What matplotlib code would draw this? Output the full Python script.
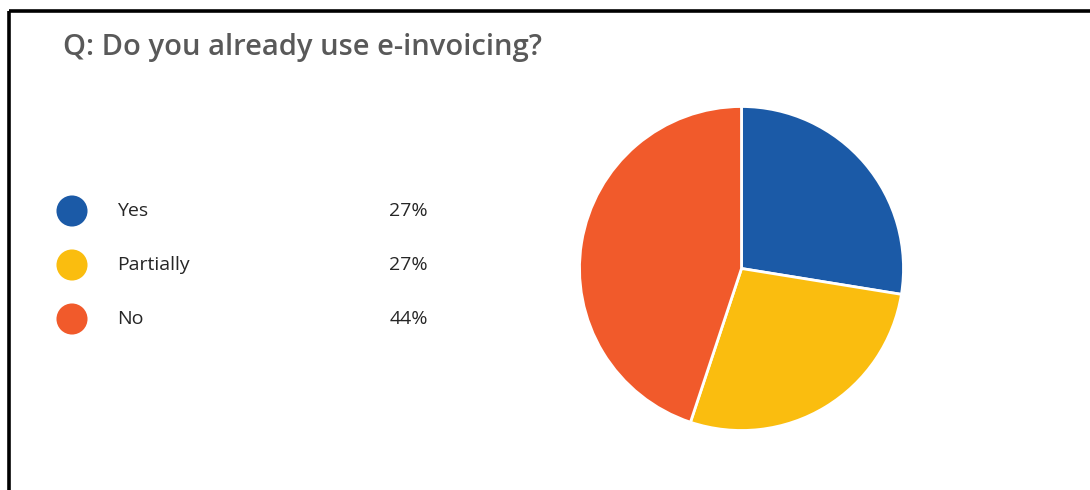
import matplotlib.pyplot as plt

# Datos de la encuesta
titulo = "Q: Do you already use e-invoicing?"
categorias = ["Yes", "Partially", "No"]
porcentajes = [27, 27, 44]
colores = ["#1B5AA7", "#FABD0F", "#F15A2B"]

fig = plt.figure(figsize=(10.9, 4.9), dpi=100)
W, H = 1090, 490

# Capa de fondo en coordenadas de pixel (origen arriba a la izquierda)
fondo = fig.add_axes([0, 0, 1, 1])
fondo.set_xlim(0, W)
fondo.set_ylim(H, 0)
fondo.axis("off")

# Marco negro (solo se ven el borde superior e izquierdo)
fondo.plot([8.5, W + 5], [11.5, 11.5], color="black", lw=2.6, solid_capstyle="butt")
fondo.plot([8.5, 8.5], [11.5, H + 5], color="black", lw=2.6, solid_capstyle="butt")

# Titulo
fondo.text(63, 48, titulo, fontsize=21, color="#595959", fontweight="semibold",
           family="Open Sans", va="center", ha="left")

# Leyenda con circulos, etiquetas y porcentajes
y_filas = [211, 265, 319]
for y, cat, pct, col in zip(y_filas, categorias, porcentajes, colores):
    fondo.scatter([72], [y], s=500, color=col, edgecolors="none")
    fondo.text(117, y, cat, fontsize=14, color="#262626", family="Open Sans",
               va="center", ha="left")
    fondo.text(428, y, f"{pct}%", fontsize=14, color="#262626", family="Open Sans",
               va="center", ha="right")

# Grafico de tarta
cx, cy, r = 741.5, 268.5, 162
ax = fig.add_axes([(cx - r) / W, (H - cy - r) / H, 2 * r / W, 2 * r / H])
ax.pie(porcentajes, colors=colores, startangle=90, counterclock=False,
       radius=1, wedgeprops=dict(edgecolor="white", linewidth=2))
ax.set_xlim(-1, 1)
ax.set_ylim(-1, 1)
ax.set_aspect("equal")
ax.axis("off")

fig.savefig("out.png", dpi=100)
plt.close(fig)
